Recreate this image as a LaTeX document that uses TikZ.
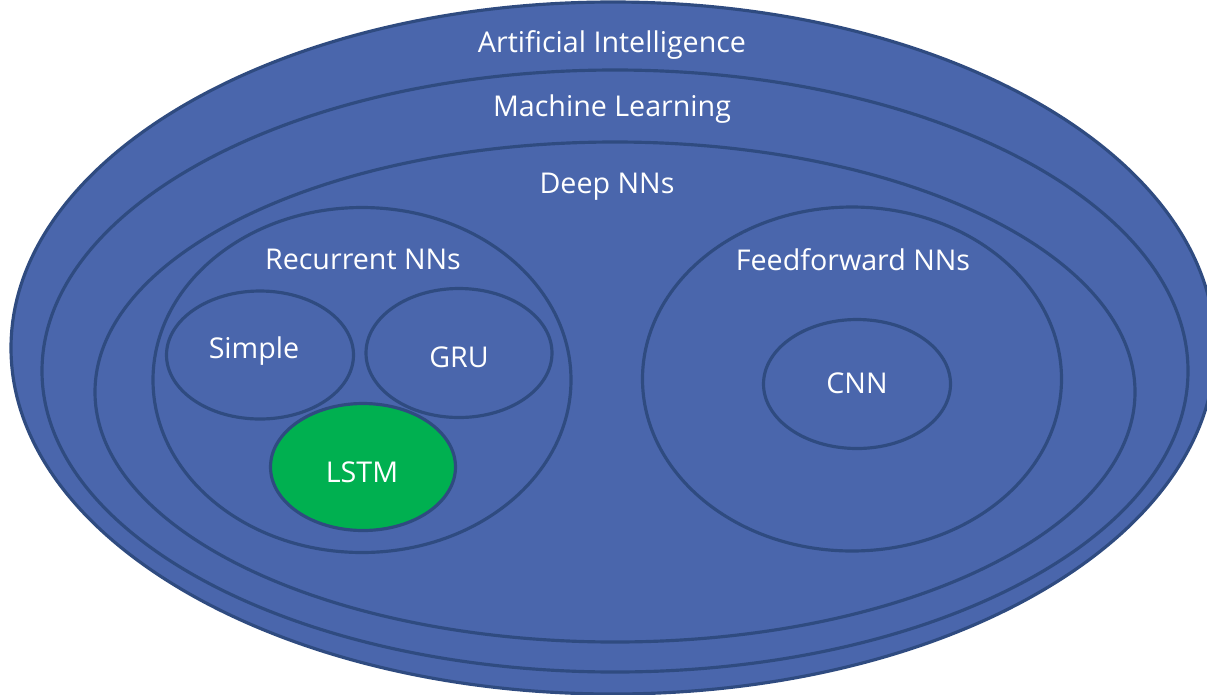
\documentclass[tikz,border=0pt]{standalone}
\usepackage{fontspec}
\setmainfont{Open Sans}
\usetikzlibrary{shapes.geometric}
\definecolor{fondoAzul}{HTML}{4A66AC}
\definecolor{bordeAzul}{HTML}{2F4B80}
\definecolor{verdeLSTM}{HTML}{00B050}

\begin{document}
\begin{tikzpicture}[
    x=0.02cm, y=-0.02cm,
    conjunto/.style={ellipse, draw=bordeAzul, fill=fondoAzul, line width=1.8pt, inner sep=0pt},
    tam/.style 2 args={minimum width=#1*0.02cm, minimum height=#2*0.02cm},
    rotulo/.style={text=white, font=\fontsize{16.3}{18}\selectfont, inner sep=0pt, yshift=-0.05cm}
]
    \useasboundingbox (0,0) rectangle (1207,694);
    \clip (0,0) rectangle (1207,694);

    % --- conjuntos anidados ---
    \node[conjunto, tam={1204}{692}] (ia) at (613,348) {};
    \node[conjunto, tam={1146}{602}] (ml) at (615,371) {};
    \node[conjunto, tam={1040}{500}] (deep) at (615,392) {};

    % --- redes recurrentes ---
    \node[conjunto, tam={418}{345}] (rnn) at (362,380) {};
    \node[conjunto, tam={187}{128}] (simple) at (260,355) {};
    \node[conjunto, tam={186}{129}] (gru) at (459,353) {};
    \node[conjunto, fill=verdeLSTM, tam={185}{127}] (lstm) at (363,467) {};

    % --- redes feedforward ---
    \node[conjunto, tam={419}{344}] (ffnn) at (852,379) {};
    \node[conjunto, tam={187}{129}] (cnn) at (857,384) {};

    % --- rotulos ---
    \node[rotulo] (tia) at (612,42) {Artificial Intelligence};
    \node[rotulo] (tml) at (612,107) {Machine Learning};
    \node[rotulo] (tdeep) at (607,184) {Deep NNs};
    \node[rotulo] (trnn) at (363,257) {Recurrent NNs};
    \node[rotulo] (tffnn) at (853,257) {Feedforward NNs};
    \node[rotulo] (tsimple) at (254,349) {Simple};
    \node[rotulo] (tgru) at (459,355) {GRU};
    \node[rotulo] (tlstm) at (362,470) {LSTM};
    \node[rotulo] (tcnn) at (857,381) {CNN};

\end{tikzpicture}
\end{document}
